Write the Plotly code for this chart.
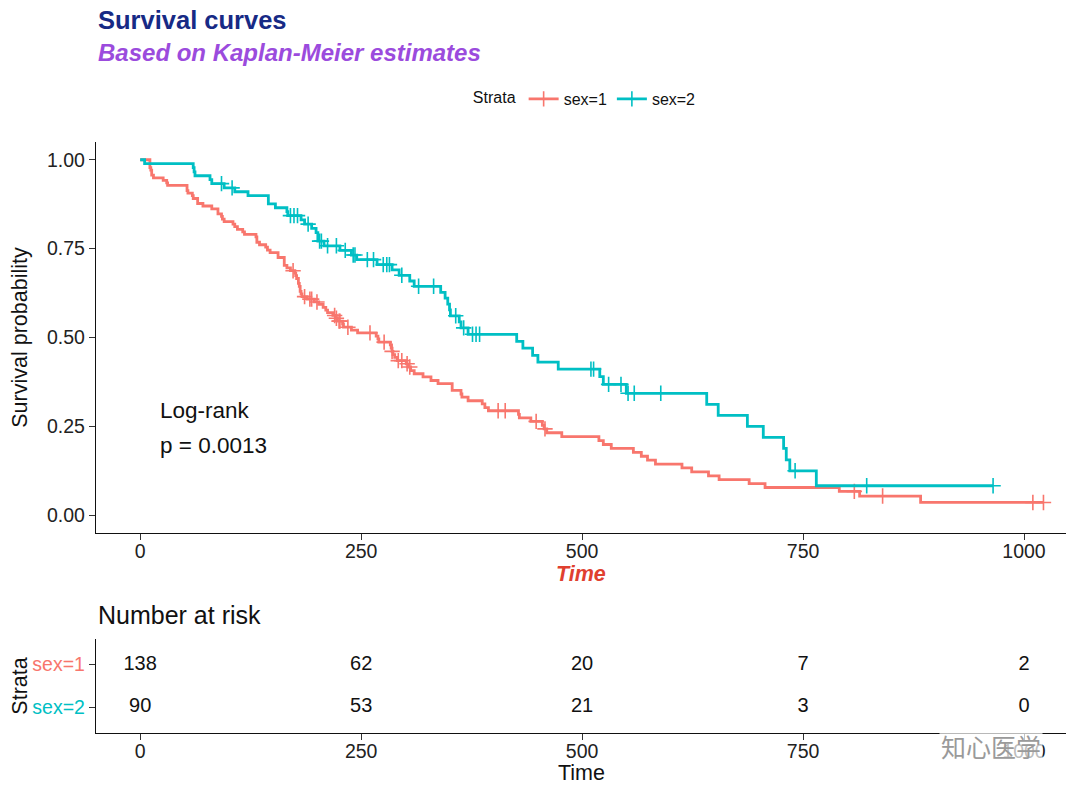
import plotly.graph_objects as go

# ---------------- data ----------------
sex1_time = [0, 11, 12, 13, 15, 26, 30, 31, 53, 54, 59, 60, 65, 71, 81, 88,
             92, 93, 95, 105, 107, 110, 116, 118, 131, 132, 135, 142, 144, 147, 156, 163,
             166, 170, 175, 176, 177, 179, 180, 181, 182, 183, 189, 197, 202, 207, 210, 212,
             218, 222, 223, 229, 230, 239, 246, 267, 269, 270, 283, 284, 285, 286, 288, 291,
             301, 303, 306, 310, 320, 329, 337, 353, 363, 364, 371, 387, 390, 394, 428, 429,
             442, 455, 457, 460, 477, 519, 524, 533, 558, 567, 574, 583, 613, 624, 643, 655,
             689, 707, 791, 814, 883]
sex1_surv = [1.0, 0.978, 0.971, 0.957, 0.949, 0.942, 0.935, 0.928, 0.913, 0.906, 0.899, 0.891, 0.877, 0.870, 0.862, 0.848,
             0.841, 0.833, 0.826, 0.819, 0.812, 0.804, 0.797, 0.790, 0.783, 0.768, 0.761, 0.754, 0.746, 0.739, 0.725, 0.703,
             0.696, 0.688, 0.681, 0.674, 0.666, 0.652, 0.644, 0.630, 0.623, 0.615, 0.608, 0.600, 0.593, 0.585, 0.577, 0.570,
             0.562, 0.554, 0.546, 0.538, 0.529, 0.521, 0.513, 0.504, 0.496, 0.487, 0.479, 0.470, 0.461, 0.452, 0.444, 0.435,
             0.426, 0.417, 0.407, 0.398, 0.389, 0.379, 0.370, 0.351, 0.341, 0.332, 0.322, 0.313, 0.303, 0.294, 0.284, 0.274,
             0.264, 0.253, 0.243, 0.232, 0.221, 0.210, 0.199, 0.188, 0.177, 0.166, 0.155, 0.144, 0.133, 0.122, 0.111, 0.100,
             0.089, 0.078, 0.067, 0.054, 0.036]
sex1_end = 1022
sex1_censor = [173, 186, 192, 194, 200, 220, 222, 225, 226, 235, 260, 276, 285, 292, 296,
               302, 305, 405, 413, 448, 458, 808, 840, 1010, 1022]

sex2_time = [0, 5, 60, 61, 62, 79, 81, 95, 107, 122, 145, 153, 166, 167, 182, 186,
             194, 199, 201, 208, 226, 239, 245, 268, 285, 293, 305, 310, 340, 345, 348, 350,
             351, 361, 363, 371, 426, 433, 444, 450, 473, 520, 524, 550, 641, 654, 687, 705,
             728, 731, 735, 765]
sex2_surv = [1.0, 0.989, 0.978, 0.966, 0.955, 0.944, 0.933, 0.921, 0.910, 0.899, 0.876, 0.865, 0.854, 0.843, 0.831, 0.819,
             0.807, 0.795, 0.771, 0.758, 0.745, 0.732, 0.719, 0.705, 0.690, 0.675, 0.659, 0.644, 0.627, 0.611, 0.594, 0.578,
             0.561, 0.544, 0.527, 0.509, 0.489, 0.470, 0.450, 0.431, 0.411, 0.390, 0.368, 0.343, 0.312, 0.281, 0.250, 0.219,
             0.188, 0.156, 0.125, 0.083]
sex2_end = 965
sex2_censor = [92, 104, 170, 174, 178, 190, 203, 205, 212, 222, 232, 241, 243, 257, 264,
               275, 279, 282, 296, 315, 332, 357, 366, 376, 380, 384, 510, 513, 530, 544,
               552, 559, 589, 741, 822, 965]

strata = ["sex=1", "sex=2"]
colors = ["#F8766D", "#00BFC4"]
risk_times = [0, 250, 500, 750, 1000]
risk_sex1 = [138, 62, 20, 7, 2]
risk_sex2 = [90, 53, 21, 3, 0]
x_ticks = [0, 250, 500, 750, 1000]
y_ticks = [0.0, 0.25, 0.50, 0.75, 1.0]
y_ticklabels = ["0.00", "0.25", "0.50", "0.75", "1.00"]
pval_text = ["Log-rank", "p = 0.0013"]

FONT = "Liberation Sans, Arial, Helvetica, sans-serif"


def step_value(times, survs, t):
    s = survs[0]
    for ti, si in zip(times, survs):
        if ti <= t:
            s = si
        else:
            break
    return s


fig = go.Figure()

groups = [
    (sex1_time, sex1_surv, sex1_end, sex1_censor),
    (sex2_time, sex2_surv, sex2_end, sex2_censor),
]
for (t, s, end, cens), name, col in zip(groups, strata, colors):
    fig.add_trace(go.Scatter(
        x=t + [end], y=s + [s[-1]], mode="lines", line=dict(color=col, width=2.8, shape="hv"),
        showlegend=False, hoverinfo="skip", xaxis="x", yaxis="y"))
    fig.add_trace(go.Scatter(
        x=cens, y=[step_value(t, s, c) for c in cens], mode="markers",
        marker=dict(symbol="cross-thin-open", size=11, color=col, line=dict(color=col, width=1.6)),
        showlegend=False, hoverinfo="skip", xaxis="x", yaxis="y"))
    # legend entry
    fig.add_trace(go.Scatter(
        x=[None], y=[None], mode="lines+markers", name=name,
        line=dict(color=col, width=2.8),
        marker=dict(symbol="cross-thin-open", size=11, color=col, line=dict(color=col, width=1.6)),
        xaxis="x", yaxis="y"))

# risk table
for vals, yv in zip([risk_sex1, risk_sex2], [2, 1]):
    fig.add_trace(go.Scatter(
        x=risk_times, y=[yv] * len(risk_times), mode="text", text=[str(v) for v in vals],
        textfont=dict(family=FONT, size=20, color="#111"), showlegend=False,
        hoverinfo="skip", xaxis="x2", yaxis="y2"))

axis_common = dict(showline=True, linecolor="#111", linewidth=1.4, ticks="outside", ticklen=6,
                   tickwidth=1.3, tickcolor="#333", showgrid=False, zeroline=False, automargin=False,
                   tickfont=dict(family=FONT, size=19.5, color="#222"))
xr = [-50, 1047.5]
TITLE_SIZE = 21.5

fig.update_layout(
    width=1080, height=793,
    paper_bgcolor="white", plot_bgcolor="white",
    margin=dict(l=88, r=22, t=134, b=68),
    font=dict(family=FONT, color="#111"),
    xaxis=dict(domain=[0, 1], anchor="y", range=xr, tickvals=x_ticks, ticklabelstandoff=-6,
               **axis_common),
    yaxis=dict(domain=[0.3384, 1], anchor="x", range=[-0.05, 1.05], tickvals=y_ticks, ticktext=y_ticklabels,
               title=dict(text="Survival probability", font=dict(family=FONT, size=TITLE_SIZE, color="#111"), standoff=18),
               **axis_common),
    xaxis2=dict(domain=[0, 1], anchor="y2", range=xr, tickvals=x_ticks, ticklabelstandoff=-6,
                **axis_common),
    yaxis2=dict(domain=[0, 0.159], anchor="x2", range=[0.4, 2.6], tickvals=[2, 1],
                ticktext=["<span style='color:%s'>sex=1</span>" % colors[0],
                          "<span style='color:%s'>sex=2</span>" % colors[1]],
                title=dict(text="Strata", font=dict(family=FONT, size=TITLE_SIZE, color="#111"), standoff=4),
                **axis_common),
    legend=dict(orientation="h", x=0.505, xanchor="center", y=1.0728, yanchor="middle",
                title=dict(text="Strata", font=dict(family=FONT, size=16, color="#111"), side="left"),
                font=dict(family=FONT, size=16, color="#111"), bgcolor="rgba(0,0,0,0)",
                itemwidth=30, tracegroupgap=0),
)

anns = [
    dict(text="<b>Survival curves</b>", x=0, y=1.2064, xanchor="left", yanchor="middle",
         font=dict(family=FONT, size=25.5, color="#172A85")),
    dict(text="<b><i>Based on Kaplan-Meier estimates</i></b>", x=0, y=1.1506, xanchor="left", yanchor="middle",
         font=dict(family=FONT, size=24, color="#9B4BDD")),
    dict(text="Number at risk", x=0, y=0.1997, xanchor="left", yanchor="middle",
         font=dict(family=FONT, size=25, color="#111")),
    dict(text="<b><i>Time</i></b>", x=0.5, y=0.269, xanchor="center", yanchor="middle",
         font=dict(family=FONT, size=TITLE_SIZE, color="#E0402F")),
    dict(text="Time", x=0.5, y=-0.0677, xanchor="center", yanchor="middle",
         font=dict(family=FONT, size=TITLE_SIZE, color="#111")),
]
for a in anns:
    a.update(xref="paper", yref="paper", showarrow=False)
    fig.add_annotation(**a)

fig.add_annotation(text=pval_text[0], x=20, y=0.295, xref="x", yref="y", xanchor="left", yanchor="middle",
                   showarrow=False, font=dict(family=FONT, size=22.5, color="#111"))
fig.add_annotation(text=pval_text[1], x=20, y=0.197, xref="x", yref="y", xanchor="left", yanchor="middle",
                   showarrow=False, font=dict(family=FONT, size=22.5, color="#111"))

# watermark
fig.add_annotation(text="知心医学", x=0.9227, y=-0.022, xref="paper", yref="paper", xanchor="center",
                   yanchor="middle", showarrow=False, bgcolor="rgba(255,255,255,0.7)",
                   font=dict(family="Noto Sans CJK SC", size=25, color="#9a9a9a"))

fig.write_html("out.html")
